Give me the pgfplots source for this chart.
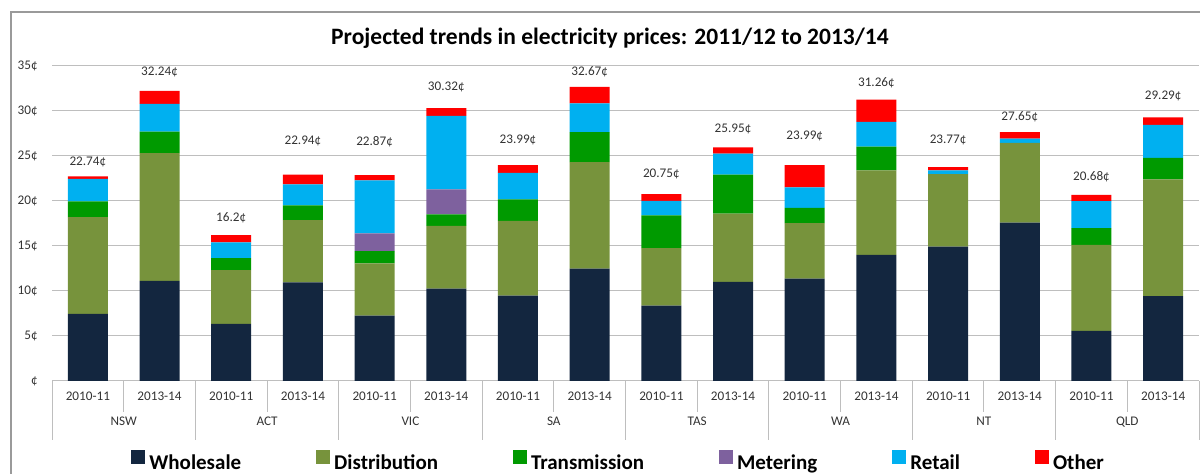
\documentclass[border=0pt]{standalone}
\usepackage{pgfplots}
\pgfplotsset{compat=1.18}
\usepackage{pgfplotstable}
\usepackage{fontspec}
\setmainfont{Carlito}
\definecolor{cWholesale}{HTML}{13263F}
\definecolor{cDist}{HTML}{77933C}
\definecolor{cTrans}{HTML}{009A00}
\definecolor{cMeter}{HTML}{7E619E}
\definecolor{cRetail}{HTML}{00B0F0}
\definecolor{cOther}{HTML}{FF0000}
\definecolor{gridc}{HTML}{BEBEBE}
\definecolor{framec}{HTML}{9A9A9A}
\definecolor{txt}{HTML}{333333}
\tikzset{grplab/.style={font=\fontsize{6.6}{8}\selectfont, text=txt, anchor=base, inner sep=0pt},
         totlab/.style={font=\fontsize{6.6}{8}\selectfont, text=txt, anchor=center, inner sep=0pt}}

\pgfplotstableread{
x W D T M R O
0 7.45 10.75 1.75 0 2.52 0.27
1 11.12 14.21 2.37 0 3.08 1.46
2 6.34 5.97 1.34 0 1.74 0.81
3 10.97 6.90 1.63 0 2.34 1.10
4 7.26 5.80 1.38 1.95 5.91 0.57
5 10.27 6.97 1.26 2.78 8.19 0.85
6 9.49 8.31 2.39 0 2.94 0.86
7 12.49 11.83 3.34 0 3.19 1.82
8 8.38 6.38 3.63 0 1.63 0.73
9 11.01 7.60 4.33 0 2.31 0.70
10 11.38 6.16 1.70 0 2.26 2.49
11 14.02 9.37 2.64 0 2.75 2.48
12 14.94 8.05 0 0 0.40 0.38
13 17.61 8.86 0 0 0.45 0.73
14 5.58 9.55 1.85 0 3.01 0.69
15 9.43 12.97 2.38 0 3.69 0.82
}\pricedata

\begin{document}
\begin{tikzpicture}
\path[use as bounding box] (0pt,0pt) rectangle (600pt,-237pt);
\draw[framec, line width=0.6pt] (5.5pt,-260pt) -- (5.5pt,-6pt) -- (620pt,-6pt);
\node[font=\bfseries\fontsize{11.75}{14}\selectfont, text=black] at (305pt,-19pt) {Projected trends in electricity prices: 2011/12 to 2013/14};
\begin{axis}[
  at={(26pt,-190.5pt)}, anchor=south west,
  scale only axis, width=573.5pt, height=157.5pt,
  ybar stacked, bar width=20pt,
  xmin=-0.5, xmax=15.5, ymin=0, ymax=35,
  enlarge x limits=false, enlarge y limits=false,
  xtick={0,...,15},
  xticklabels={2010-11,2013-14,2010-11,2013-14,2010-11,2013-14,2010-11,2013-14,2010-11,2013-14,2010-11,2013-14,2010-11,2013-14,2010-11,2013-14},
  ytick={0,5,...,35},
  yticklabels={¢,5¢,10¢,15¢,20¢,25¢,30¢,35¢},
  major tick length=0pt,
  axis line style={draw=none},
  ymajorgrids, grid style={gridc, line width=0.5pt},
  clip=false,
  xticklabel style={font=\fontsize{6.6}{8}\selectfont, text=txt, anchor=base, inner sep=0pt, yshift=-9.75pt},
  yticklabel style={font=\fontsize{6.6}{8}\selectfont, text=txt, anchor=east, inner sep=0pt, xshift=-7pt},
  legend style={draw=none, fill=none, at={(0.0689,-0.254)}, anchor=west,
    legend columns=6, inner sep=0pt,
    font=\bfseries\fontsize{10.5}{12}\selectfont,
    nodes={inner sep=0pt},
    /tikz/every odd column/.append style={column sep=2pt},
    /tikz/every even column/.append style={column sep=37.5pt}},
  legend image code/.code={\fill[#1] (0pt,0pt) rectangle (7pt,7pt);},
]
\addplot[fill=cWholesale, draw=none] table[x=x, y=W] {\pricedata};
\addplot[fill=cDist, draw=none] table[x=x, y=D] {\pricedata};
\addplot[fill=cTrans, draw=none] table[x=x, y=T] {\pricedata};
\addplot[fill=cMeter, draw=none] table[x=x, y=M] {\pricedata};
\addplot[fill=cRetail, draw=none] table[x=x, y=R] {\pricedata};
\addplot[fill=cOther, draw=none] table[x=x, y=O] {\pricedata};
\legend{Wholesale,Distribution,Transmission,Metering,Retail,Other}

\draw[gridc, line width=0.5pt] (axis cs:0.5,0) -- ++(0pt,-15.5pt);
\draw[gridc, line width=0.5pt] (axis cs:2.5,0) -- ++(0pt,-15.5pt);
\draw[gridc, line width=0.5pt] (axis cs:4.5,0) -- ++(0pt,-15.5pt);
\draw[gridc, line width=0.5pt] (axis cs:6.5,0) -- ++(0pt,-15.5pt);
\draw[gridc, line width=0.5pt] (axis cs:8.5,0) -- ++(0pt,-15.5pt);
\draw[gridc, line width=0.5pt] (axis cs:10.5,0) -- ++(0pt,-15.5pt);
\draw[gridc, line width=0.5pt] (axis cs:12.5,0) -- ++(0pt,-15.5pt);
\draw[gridc, line width=0.5pt] (axis cs:14.5,0) -- ++(0pt,-15.5pt);
\draw[gridc, line width=0.5pt] (axis cs:-0.5,0) -- ++(0pt,-29.5pt);
\draw[gridc, line width=0.5pt] (axis cs:1.5,0) -- ++(0pt,-29.5pt);
\draw[gridc, line width=0.5pt] (axis cs:3.5,0) -- ++(0pt,-29.5pt);
\draw[gridc, line width=0.5pt] (axis cs:5.5,0) -- ++(0pt,-29.5pt);
\draw[gridc, line width=0.5pt] (axis cs:7.5,0) -- ++(0pt,-29.5pt);
\draw[gridc, line width=0.5pt] (axis cs:9.5,0) -- ++(0pt,-29.5pt);
\draw[gridc, line width=0.5pt] (axis cs:11.5,0) -- ++(0pt,-29.5pt);
\draw[gridc, line width=0.5pt] (axis cs:13.5,0) -- ++(0pt,-29.5pt);
\draw[gridc, line width=0.5pt] (axis cs:15.5,0) -- ++(0pt,-29.5pt);

\node[grplab] at ([yshift=-22.25pt]axis cs:0.5,0) {NSW};
\node[grplab] at ([yshift=-22.25pt]axis cs:2.5,0) {ACT};
\node[grplab] at ([yshift=-22.25pt]axis cs:4.5,0) {VIC};
\node[grplab] at ([yshift=-22.25pt]axis cs:6.5,0) {SA};
\node[grplab] at ([yshift=-22.25pt]axis cs:8.5,0) {TAS};
\node[grplab] at ([yshift=-22.25pt]axis cs:10.5,0) {WA};
\node[grplab] at ([yshift=-22.25pt]axis cs:12.5,0) {NT};
\node[grplab] at ([yshift=-22.25pt]axis cs:14.5,0) {QLD};

\node[totlab] at (axis cs:0,24.33) {22.74¢};
\node[totlab] at (axis cs:1,34.29) {32.24¢};
\node[totlab] at (axis cs:2,18.10) {16.2¢};
\node[totlab] at (axis cs:3,26.70) {22.94¢};
\node[totlab] at (axis cs:4,26.55) {22.87¢};
\node[totlab] at (axis cs:5,32.63) {30.32¢};
\node[totlab] at (axis cs:6,26.73) {23.99¢};
\node[totlab] at (axis cs:7,34.37) {32.67¢};
\node[totlab] at (axis cs:8,22.99) {20.75¢};
\node[totlab] at (axis cs:9,28.00) {25.95¢};
\node[totlab] at (axis cs:10,27.25) {23.99¢};
\node[totlab] at (axis cs:11,33.15) {31.26¢};
\node[totlab] at (axis cs:12,26.81) {23.77¢};
\node[totlab] at (axis cs:13,29.40) {27.65¢};
\node[totlab] at (axis cs:14,22.73) {20.68¢};
\node[totlab] at (axis cs:15,31.62) {29.29¢};
\end{axis}
\end{tikzpicture}
\end{document}
